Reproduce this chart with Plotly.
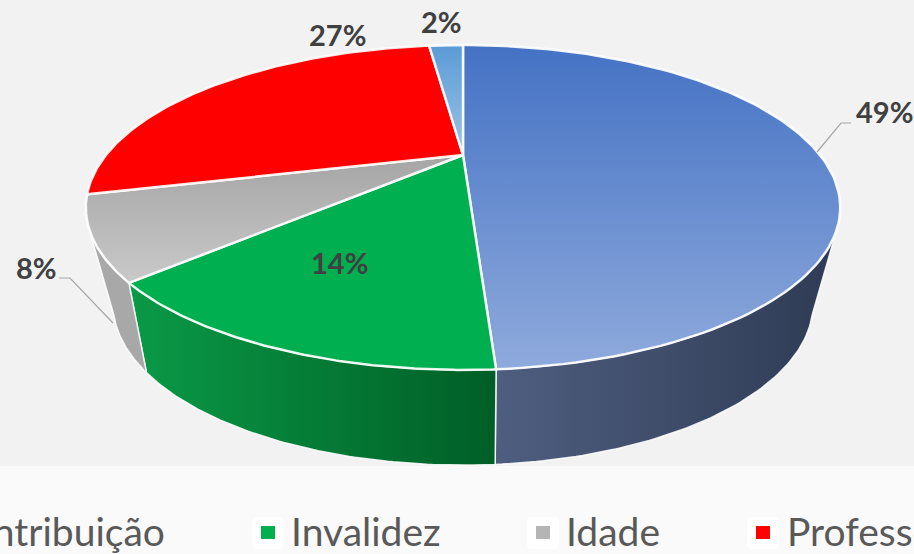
import numpy as np
import plotly.graph_objects as go

categories = ["Contribuição", "Invalidez", "Idade", "Professores", "Outros"]
shares = [49, 14, 8, 27, 2]
top_scales = [
    ["#8FAADC", "#4472C4"],
    ["#00B050", "#00B050"],
    ["#C9C9C9", "#A5A5A5"],
    ["#FF0000", "#FF0000"],
    ["#9DC3E6", "#5B9BD5"],
]
wall_scales = [
    ["#4F5E80", "#2F3B54"],
    ["#0A9A47", "#005E26"],
    ["#A8A8A8", "#A8A8A8"],
    None,
    None,
]
label_texts = ["49%", "14%", "8%", "27%", "2%"]
label_x = [884, 339, 36, 337, 441]
label_y = [111, 262, 267, 34, 21]
legend_labels = ["Contribuição", "Invalidez", "Idade", "Professores"]
legend_text_x = [165, 291, 566, 787]
legend_anchor = ["right", "left", "left", "left"]
legend_box_x = [None, 268, 543, 763]
legend_colors = [None, "#00B050", "#B5B5B5", "#FF0000"]
leaders = [([817, 841, 851], [152, 123, 123]), ([113, 70, 59], [323, 278, 278])]

TOP = dict(cx=463, cy=155, a=145.5, b=357, k=-0.323)
BOT = dict(cx=463, cy=245, a=140, b=326, k=-0.364)
WALL_LIMIT = (115.0, 245.0)
W, H = 914, 554


def project(deg, disc):
    th = np.radians(deg)
    s, t = np.sin(th), -np.cos(th)
    d = 1 + disc["k"] * t
    return disc["cx"] + disc["b"] * s / d, disc["cy"] + disc["a"] * t / d


cum = np.cumsum([0] + shares) / sum(shares) * 360
fig = go.Figure()

# side walls
for i in range(len(shares)):
    lo = max(cum[i], WALL_LIMIT[0])
    hi = min(cum[i + 1], WALL_LIMIT[1])
    if lo >= hi or wall_scales[i] is None:
        continue
    ang = np.linspace(lo, hi, 80)
    xt, yt = project(ang, TOP)
    xb, yb = project(ang[::-1], BOT)
    x = np.r_[xt, xb, xt[0]]
    y = np.r_[yt, yb, yt[0]]
    c0, c1 = wall_scales[i]
    fig.add_trace(go.Scatter(
        x=x, y=y, mode="lines", fill="toself",
        line=dict(color="rgba(255,255,255,0.85)", width=1.5),
        fillgradient=dict(type="horizontal", colorscale=[[0, c0], [1, c1]]),
        hoverinfo="skip", showlegend=False))

# top face
for i in range(len(shares)):
    ang = np.linspace(cum[i], cum[i + 1], 120)
    xa, ya = project(ang, TOP)
    x = np.r_[TOP["cx"], xa, TOP["cx"]]
    y = np.r_[TOP["cy"], ya, TOP["cy"]]
    c0, c1 = top_scales[i]
    fig.add_trace(go.Scatter(
        x=x, y=y, mode="lines", fill="toself",
        line=dict(color="rgba(255,255,255,0.9)", width=2.5),
        fillgradient=dict(type="vertical", colorscale=[[0, c0], [1, c1]]),
        hoverinfo="skip", showlegend=False))

# leader lines
for lx, ly in leaders:
    fig.add_trace(go.Scatter(x=lx, y=ly, mode="lines",
                             line=dict(color="#A6A6A6", width=1.2),
                             hoverinfo="skip", showlegend=False))

shapes = [dict(type="rect", xref="x", yref="y", x0=0, x1=W, y0=0, y1=466,
               fillcolor="#F2F2F2", line_width=0, layer="below")]
for bx, col in zip(legend_box_x, legend_colors):
    if bx is None:
        continue
    x0, x1, y0, y1, r = bx - 16, bx + 16, 517, 549, 5
    shapes.append(dict(
        type="path", xref="x", yref="y", layer="below", fillcolor="#FFFFFF", line_width=0,
        path=f"M{x0+r},{y0} L{x1-r},{y0} Q{x1},{y0} {x1},{y0+r} L{x1},{y1-r} Q{x1},{y1} {x1-r},{y1} "
             f"L{x0+r},{y1} Q{x0},{y1} {x0},{y1-r} L{x0},{y0+r} Q{x0},{y0} {x0+r},{y0} Z"))
    shapes.append(dict(type="rect", xref="x", yref="y", x0=bx - 7, x1=bx + 7, y0=526, y1=539,
                       fillcolor=col, line_width=0, layer="above"))

annotations = []
for t, x, y in zip(label_texts, label_x, label_y):
    annotations.append(dict(text=f"<b>{t}</b>", x=x, y=y, xref="x", yref="y", showarrow=False,
                            xanchor="center", yanchor="middle",
                            font=dict(family="Lato", size=29, color="#404040")))
for t, x, an in zip(legend_labels, legend_text_x, legend_anchor):
    annotations.append(dict(text=t, x=x, y=531, xref="x", yref="y", showarrow=False,
                            xanchor=an, yanchor="middle",
                            borderpad=0, borderwidth=0,
                            font=dict(family="Lato", size=39, color="#595959")))

fig.update_layout(
    width=W, height=H, margin=dict(l=0, r=0, t=0, b=0), autosize=False,
    paper_bgcolor="#FAFAFA", plot_bgcolor="rgba(0,0,0,0)",
    xaxis=dict(range=[0, W], visible=False, fixedrange=True),
    yaxis=dict(range=[H, 0], visible=False, fixedrange=True),
    shapes=shapes, annotations=annotations, showlegend=False,
)
fig.write_html("out.html", config={"displayModeBar": False},
               post_script="document.body.style.margin='0';document.body.style.overflow='hidden';")
